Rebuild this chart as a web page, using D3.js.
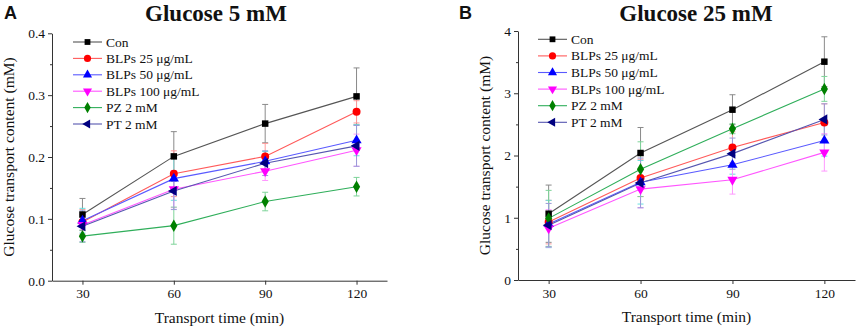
<!DOCTYPE html>
<html>
<head>
<meta charset="utf-8">
<script src="https://cdn.jsdelivr.net/npm/d3@7"></script>
<style>
  body { margin: 0; background: #fff; }
  svg text { font-family: "Liberation Serif", "Times New Roman", serif; fill: #111; }
</style>
</head>
<body>
<svg id="chart" width="858" height="329"></svg>
<script>
// ---- data ----
const times = [30, 60, 90, 120];
const seriesNames = ["Con", "BLPs 25 μg/mL", "BLPs 50 μg/mL", "BLPs 100 μg/mL", "PZ 2 mM", "PT 2 mM"];

// Panel A: glucose 5 mM
const conA = [0.107, 0.201, 0.254, 0.298];
const blp25A = [0.095, 0.173, 0.201, 0.273];
const blp50A = [0.097, 0.165, 0.193, 0.227];
const blp100A = [0.090, 0.148, 0.177, 0.211];
const pzA = [0.072, 0.089, 0.128, 0.152];
const ptA = [0.088, 0.145, 0.190, 0.218];
const conErrA = [0.026, 0.040, 0.031, 0.046];
const blp25ErrA = [0.020, 0.037, 0.021, 0.018];
const blp50ErrA = [0.020, 0.035, 0.016, 0.025];
const blp100ErrA = [0.017, 0.030, 0.015, 0.026];
const pzErrA = [0.010, 0.030, 0.015, 0.015];
const ptErrA = [0.025, 0.030, 0.020, 0.033];

// Panel B: glucose 25 mM
const conB = [1.065, 2.04, 2.736, 3.507];
const blp25B = [0.93, 1.64, 2.13, 2.53];
const blp50B = [0.90, 1.57, 1.85, 2.24];
const blp100B = [0.83, 1.46, 1.61, 2.05];
const pzB = [0.99, 1.78, 2.43, 3.07];
const ptB = [0.88, 1.56, 2.03, 2.58];
const conErrB = [0.46, 0.41, 0.24, 0.40];
const blp25ErrB = [0.35, 0.30, 0.25, 0.30];
const blp50ErrB = [0.38, 0.35, 0.15, 0.25];
const blp100ErrB = [0.30, 0.30, 0.23, 0.30];
const pzErrB = [0.45, 0.44, 0.08, 0.20];
const ptErrB = [0.35, 0.40, 0.25, 0.25];

const markerColors = ["#000000", "#ff0000", "#0000ff", "#ff00ff", "#008000", "#000080"];
const lineColors = ["#555555", "#ff5a5a", "#5a5aff", "#ff55ff", "#2fae5a", "#5656b0"];
const errColors = ["#8a8a8a", "#ff9a9a", "#66e0e0", "#ff99ff", "#7fd49a", "#9a9ad8"];
const symbols = [d3.symbolSquare, d3.symbolCircle, d3.symbolTriangle, d3.symbolTriangle, d3.symbolDiamond, d3.symbolTriangle];
const rotations = [0, 0, 0, 180, 0, -90];
const symSizes = [42, 50, 45, 45, 45, 45];

const svg = d3.select("#chart");

function drawPanel(cfg) {
    const g = svg.append("g");
    const x = d3.scaleLinear().domain([20, 130]).range([cfg.left, cfg.right]);
    const y = d3.scaleLinear().domain([0, cfg.yMax]).range([cfg.bottom, cfg.top]);

    // axes
    g.append("g")
        .attr("transform", `translate(0,${cfg.bottom})`)
        .call(d3.axisBottom(x).tickValues(times).tickSize(4).tickSizeOuter(0).tickPadding(4));
    g.append("g")
        .attr("transform", `translate(${cfg.left},0)`)
        .call(d3.axisLeft(y).tickValues(cfg.yTicks).tickFormat(cfg.fmt).tickSize(4).tickSizeOuter(0).tickPadding(3));
    // minor y ticks
    g.append("g")
        .attr("transform", `translate(${cfg.left},0)`)
        .call(d3.axisLeft(y).tickValues(cfg.yMinor).tickFormat("").tickSize(2).tickSizeOuter(0))
        .select(".domain").remove();
    g.selectAll(".domain, .tick line").attr("stroke", "#333").attr("stroke-width", 1);
    g.selectAll(".tick text").style("font-size", "13.5px").attr("fill", "#111");

    // axis titles
    g.append("text")
        .attr("x", (x(30) + x(120)) / 2)
        .attr("y", cfg.bottom + 42)
        .attr("text-anchor", "middle")
        .style("font-size", "15.5px")
        .text("Transport time (min)");
    g.append("text")
        .attr("transform", `translate(${cfg.yTitleX},${(cfg.top + cfg.bottom) / 2}) rotate(-90)`)
        .attr("text-anchor", "middle")
        .style("font-size", "15.5px")
        .text("Glucose transport content (mM)");

    // title + panel letter
    g.append("text")
        .attr("x", cfg.titleX)
        .attr("y", 21)
        .attr("text-anchor", "middle")
        .style("font-size", "23px")
        .style("font-weight", "bold")
        .text(cfg.title);
    g.append("text")
        .attr("x", cfg.letterX)
        .attr("y", 19)
        .style("font-family", "'Liberation Sans', Arial, sans-serif")
        .style("font-size", "18px")
        .style("font-weight", "bold")
        .text(cfg.letter);

    const line = d3.line().x((d, i) => x(times[i])).y(d => y(d));

    // error bars first
    cfg.values.forEach((vals, s) => {
        const eg = g.append("g").attr("stroke", errColors[s]).attr("stroke-width", 1);
        vals.forEach((v, i) => {
            const e = cfg.errors[s][i];
            const cx = x(times[i]);
            eg.append("line").attr("x1", cx).attr("x2", cx).attr("y1", y(v - e)).attr("y2", y(v + e));
            [v - e, v + e].forEach(t => {
                eg.append("line").attr("x1", cx - 3).attr("x2", cx + 3).attr("y1", y(t)).attr("y2", y(t));
            });
        });
    });

    // lines
    cfg.values.forEach((vals, s) => {
        g.append("path")
            .datum(vals)
            .attr("fill", "none")
            .attr("stroke", lineColors[s])
            .attr("stroke-width", 1.1)
            .attr("d", line);
    });

    // markers
    cfg.values.forEach((vals, s) => {
        g.selectAll(null)
            .data(vals)
            .join("path")
            .attr("d", d3.symbol(symbols[s], symSizes[s]))
            .attr("fill", markerColors[s])
            .attr("transform", (d, i) => `translate(${x(times[i])},${y(d)}) rotate(${rotations[s]})`);
    });

    // legend
    const lg = g.append("g").attr("transform", `translate(${cfg.legX},${cfg.legY})`);
    seriesNames.forEach((name, s) => {
        const row = lg.append("g").attr("transform", `translate(0,${s * cfg.legStep})`);
        row.append("line").attr("x1", 0).attr("x2", 29).attr("stroke", lineColors[s]).attr("stroke-width", 1.1);
        row.append("path")
            .attr("d", d3.symbol(symbols[s], symSizes[s] * 0.8))
            .attr("fill", markerColors[s])
            .attr("transform", `translate(14.5,0) rotate(${rotations[s]})`);
        row.append("text")
            .attr("x", 33)
            .attr("y", 4.5)
            .style("font-size", "13.5px")
            .text(name);
    });
}

drawPanel({
    left: 52, right: 387, top: 33.3, bottom: 280.7,
    yMax: 0.4, yTicks: [0, 0.1, 0.2, 0.3, 0.4], yMinor: [0.05, 0.15, 0.25, 0.35],
    fmt: d3.format(".1f"),
    values: [conA, blp25A, blp50A, blp100A, pzA, ptA],
    errors: [conErrA, blp25ErrA, blp50ErrA, blp100ErrA, pzErrA, ptErrA],
    title: "Glucose 5 mM", titleX: 216, letter: "A", letterX: 4,
    yTitleX: 14, legX: 73, legY: 42, legStep: 16.4
});

drawPanel({
    left: 518, right: 855, top: 31, bottom: 280,
    yMax: 4, yTicks: [0, 1, 2, 3, 4], yMinor: [0.5, 1.5, 2.5, 3.5],
    fmt: d3.format("d"),
    values: [conB, blp25B, blp50B, blp100B, pzB, ptB],
    errors: [conErrB, blp25ErrB, blp50ErrB, blp100ErrB, pzErrB, ptErrB],
    title: "Glucose 25 mM", titleX: 696, letter: "B", letterX: 459,
    yTitleX: 490, legX: 538, legY: 39.3, legStep: 16.6
});
</script>
</body>
</html>
